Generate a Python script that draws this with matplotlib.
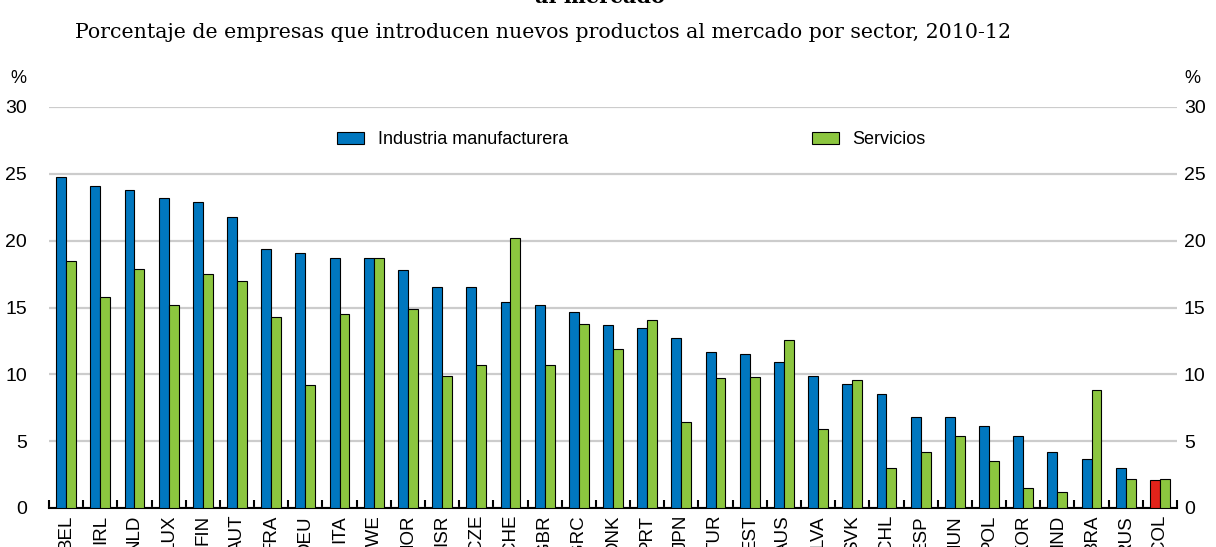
import numpy as np
import matplotlib
matplotlib.use("Agg")
import matplotlib.pyplot as plt
from matplotlib.patches import Patch

# datos
paises = ["BEL", "IRL", "NLD", "LUX", "FIN", "AUT", "FRA", "DEU", "ITA", "SWE",
          "NOR", "ISR", "CZE", "CHE", "GBR", "GRC", "DNK", "PRT", "JPN", "TUR",
          "EST", "AUS", "LVA", "SVK", "CHL", "ESP", "HUN", "POL", "KOR", "IND",
          "BRA", "RUS", "COL"]
industria = [24.8, 24.1, 23.8, 23.2, 22.9, 21.8, 19.4, 19.1, 18.7, 18.7,
             17.8, 16.5, 16.5, 15.4, 15.2, 14.7, 13.7, 13.5, 12.7, 11.7,
             11.5, 10.9, 9.9, 9.3, 8.5, 6.8, 6.8, 6.1, 5.4, 4.2,
             3.7, 3.0, 2.1]
servicios = [18.5, 15.8, 17.9, 15.2, 17.5, 17.0, 14.3, 9.2, 14.5, 18.7,
             14.9, 9.9, 10.7, 20.2, 10.7, 13.8, 11.9, 14.1, 6.4, 9.7,
             9.8, 12.6, 5.9, 9.6, 3.0, 4.2, 5.4, 3.5, 1.5, 1.2,
             8.8, 2.2, 2.2]
yticks = [0, 5, 10, 15, 20, 25, 30]

AZUL = "#0077BF"
VERDE = "#8CC63F"
ROJO = "#E2231A"
SANS = ["Liberation Sans", "DejaVu Sans"]
SERIF = ["DejaVu Serif"]

fig = plt.figure(figsize=(12.16, 5.47), dpi=100)
ax = fig.add_axes([49 / 1216, 1 - 508 / 547, (1177 - 49) / 1216, (508 - 107) / 547])

x = np.arange(len(paises))
w = 0.29
colores = [ROJO if p == "COL" else AZUL for p in paises]
ax.bar(x - w / 2, industria, w, color=colores, edgecolor="black", linewidth=0.8, zorder=3)
ax.bar(x + w / 2, servicios, w, color=VERDE, edgecolor="black", linewidth=0.8, zorder=3)

ax.set_xlim(-0.5, len(paises) - 0.5)
ax.set_ylim(0, 30)
ax.set_yticks(yticks)
ax.set_yticklabels([str(v) for v in yticks], family=SANS, fontsize=14)
ax.tick_params(axis="y", length=0, pad=16)
ax.yaxis.grid(True, color="#CCCCCC", linewidth=1.6, zorder=0)
ax.set_axisbelow(True)

# eje derecho con las mismas marcas
ax2 = ax.twinx()
ax2.set_ylim(0, 30)
ax2.set_yticks(yticks)
ax2.set_yticklabels([str(v) for v in yticks], family=SANS, fontsize=14)
ax2.tick_params(axis="y", length=0, pad=5)
for s in ["top", "left", "right", "bottom"]:
    ax2.spines[s].set_visible(False)

ax.set_xticks(x)
ax.set_xticklabels(paises, rotation=90, family=SANS, fontsize=13.5, va="top")
ax.tick_params(axis="x", length=0, pad=5)
ax.set_xticks(np.arange(-0.5, len(paises)), minor=True)
ax.tick_params(axis="x", which="minor", direction="in", length=6, width=1.5, color="black")

for s in ["top", "left", "right"]:
    ax.spines[s].set_visible(False)
ax.spines["bottom"].set_linewidth(1.5)

ax.text(-0.0275, 1.072, "%", transform=ax.transAxes, ha="center", va="center",
        family=SANS, fontsize=13)
ax.text(1.0133, 1.072, "%", transform=ax.transAxes, ha="center", va="center",
        family=SANS, fontsize=13)

ley_y = 1 - (140 - 107) / 401
h1 = [Patch(facecolor=AZUL, edgecolor="black", linewidth=0.8, label="Industria manufacturera")]
h2 = [Patch(facecolor=VERDE, edgecolor="black", linewidth=0.8, label="Servicios")]
kw = dict(frameon=False, loc="center left", prop={"family": SANS, "size": 13},
          handlelength=1.5, handleheight=0.6, handletextpad=0.75,
          borderaxespad=0, borderpad=0)
leg1 = ax.legend(handles=h1, bbox_to_anchor=((337 - 49) / 1128, ley_y), **kw)
ax.add_artist(leg1)
ax.legend(handles=h2, bbox_to_anchor=((812 - 49) / 1128, ley_y), **kw)

fig.text(600 / 1216, 1 - 3 / 547, "al mercado", ha="center", va="baseline",
         family=SERIF, fontweight="bold", fontsize=15)
fig.text(75 / 1216, 1 - 32 / 547, "Porcentaje de empresas que introducen nuevos productos al mercado por sector, 2010-12",
         ha="left", va="center", family=SERIF, fontsize=14.8)

fig.savefig("out.png", dpi=100)
